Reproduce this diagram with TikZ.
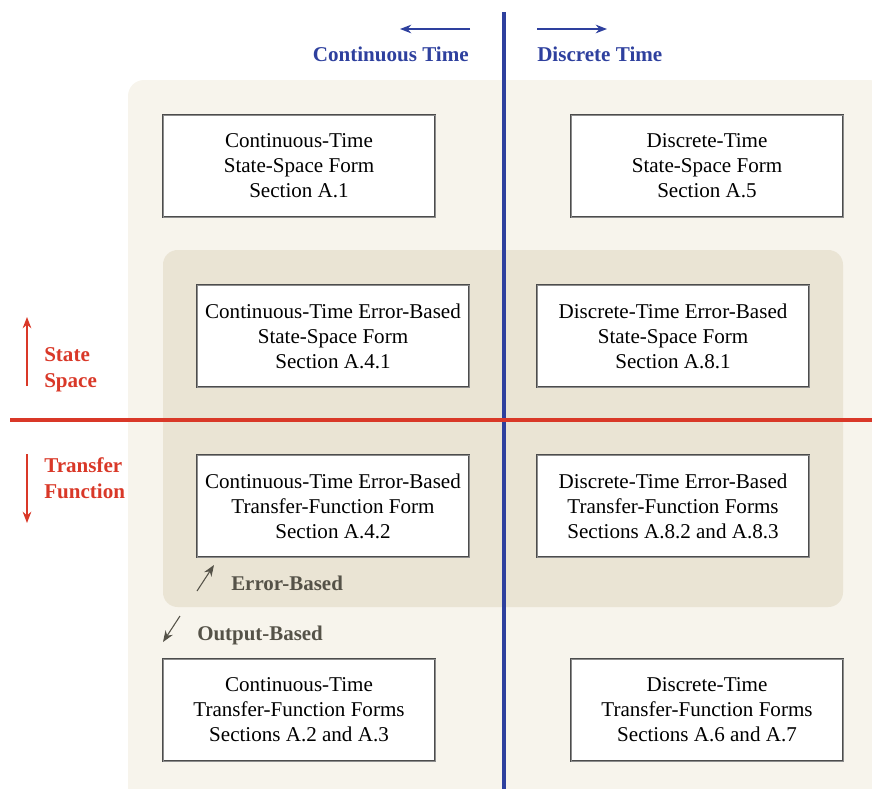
\documentclass[tikz,border=0pt]{standalone}
\usepackage{fontspec}
\setmainfont{Liberation Serif}
\usetikzlibrary{arrows.meta}
\definecolor{axisblue}{RGB}{46,64,158}
\definecolor{axisred}{RGB}{217,56,40}
\definecolor{labelgray}{RGB}{85,82,72}
\definecolor{outerbg}{RGB}{247,244,236}
\definecolor{innerbg}{RGB}{234,228,212}
\tikzset{
  formbox/.style={draw=black!70, line width=0.8pt, fill=white, minimum width=272*0.75pt,
    minimum height=102*0.75pt, align=center, inner sep=0pt, font=\fontsize{15.8}{18.8}\selectfont,
    postaction={draw=black!45, line width=1pt, transform canvas={shift={(0.5pt,-0.6pt)}}}},
  axislabel/.style={font=\bfseries\fontsize{15.8}{19.5}\selectfont, inner sep=0pt},
  kindlabel/.style={font=\bfseries\fontsize{15.7}{18}\selectfont, text=labelgray, inner sep=0pt, anchor=west},
  tip/.style={-{Stealth[length=8.5pt,width=6.5pt]}},
}
\begin{document}
\begin{tikzpicture}[x=0.75pt,y=-0.75pt]
\useasboundingbox (0,0) rectangle (872,789);
% shaded regions
\fill[outerbg, rounded corners=12pt] (128,80) rectangle (885,789);
\fill[outerbg] (128,775) rectangle (872,789);
\fill[innerbg, rounded corners=11pt] (163,250) rectangle (843,607);
% forms
\node[formbox] (ctss) at (299,166) {Continuous-Time\\State-Space Form\\Section A.1};
\node[formbox] (dtss) at (707,166) {Discrete-Time\\State-Space Form\\Section A.5};
\node[formbox] (cteb) at (333,336) {Continuous-Time Error-Based\\State-Space Form\\Section A.4.1};
\node[formbox] (dteb) at (673,336) {Discrete-Time Error-Based\\State-Space Form\\Section A.8.1};
\node[formbox] (ctet) at (333,506) {Continuous-Time Error-Based\\Transfer-Function Form\\Section A.4.2};
\node[formbox] (dtet) at (673,506) {Discrete-Time Error-Based\\Transfer-Function Forms\\Sections A.8.2 and A.8.3};
\node[formbox] (cttf) at (299,710) {Continuous-Time\\Transfer-Function Forms\\Sections A.2 and A.3};
\node[formbox] (dttf) at (707,710) {Discrete-Time\\Transfer-Function Forms\\Sections A.6 and A.7};
% dividing axes
\coordinate (vtop) at (504,12);
\coordinate (vbot) at (504,789);
\coordinate (hl) at (10,420);
\coordinate (hr) at (872,420);
\draw[axisblue, line width=2.3pt] (vtop) -- (vbot);
\draw[axisred, line width=2.4pt] (hl) -- (hr);
% time-domain labels
\node[axislabel, text=axisblue, anchor=east] (ctl) at (469,54) {Continuous Time};
\node[axislabel, text=axisblue, anchor=west] (dtl) at (537,54) {Discrete Time};
\coordinate (la0) at (470,29); \coordinate (la1) at (400,29);
\coordinate (ra0) at (537,29); \coordinate (ra1) at (607,29);
\draw[axisblue, line width=1pt, tip] (la0) -- (la1);
\draw[axisblue, line width=1pt, tip] (ra0) -- (ra1);
% representation labels
\node[axislabel, text=axisred, anchor=west, align=left] (ssl) at (44,370) {State\\Space};
\node[axislabel, text=axisred, anchor=west, align=left] (tfl) at (44,478) {Transfer\\Function};
\coordinate (ua0) at (27,386); \coordinate (ua1) at (27,317);
\coordinate (da0) at (27,454); \coordinate (da1) at (27,523);
\draw[axisred, line width=1pt, tip] (ua0) -- (ua1);
\draw[axisred, line width=1pt, tip] (da0) -- (da1);
% form-kind labels
\node[kindlabel] (ebl) at (231,583) {Error-Based};
\node[kindlabel] (obl) at (197,635) {Output-Based};
\coordinate (ea0) at (197,591); \coordinate (ea1) at (214,565);
\coordinate (oa0) at (180,616); \coordinate (oa1) at (163,642);
\draw[labelgray, line width=0.8pt, tip] (ea0) -- (ea1);
\draw[labelgray, line width=0.8pt, tip] (oa0) -- (oa1);
\end{tikzpicture}
\end{document}
